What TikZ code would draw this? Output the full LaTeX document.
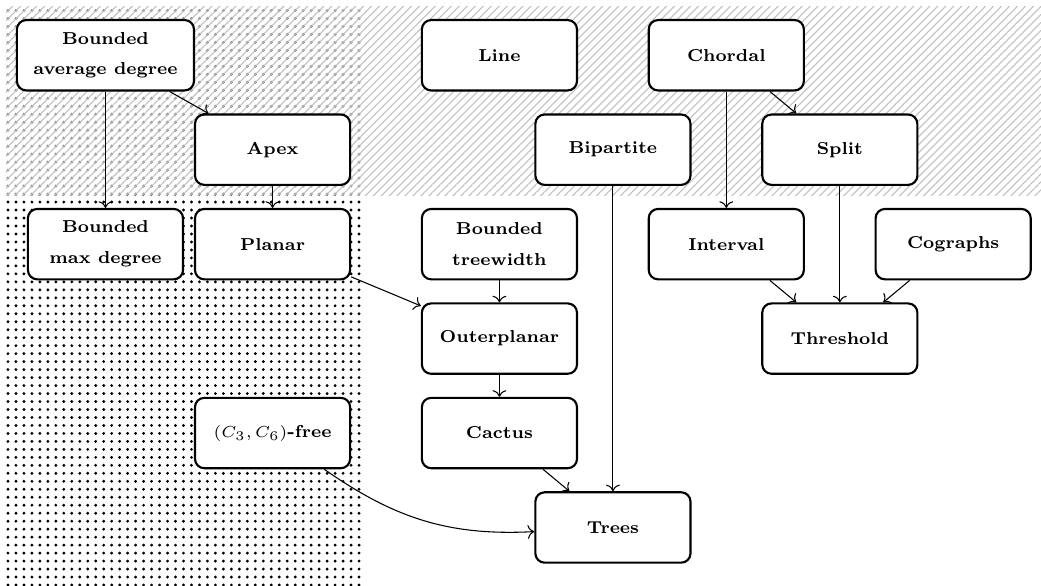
\documentclass[tikz,border=0pt]{standalone}
\usepackage{amsmath,amssymb}
\usepackage{xcolor}
\usepackage{tikz}
\usetikzlibrary{arrows.meta,positioning,patterns.meta,backgrounds}

\begin{document}
\begin{tikzpicture}[
    node distance=0.29cm and 0.92cm,
    cls/.style={rectangle, rounded corners=3.5pt, draw=black, thick,
                fill=white, minimum width=2.05cm, minimum height=0.93cm,
                font=\fontsize{6.5pt}{8pt}\selectfont\bfseries, align=center},
    arr/.style={->, thin}
  ]
    \useasboundingbox (0,0) rectangle (13.757,-7.731);

    \node[cls] (line) at (6.6,-0.73) {Line};
    \node[cls, right=of line]   (chordal) {Chordal};
    \node[cls, below=of line, xshift=1.5cm]    (bip)   {Bipartite};
    \node[cls, below=of chordal, xshift=1.5cm] (split) {Split};
    \node[cls, below=of bip, xshift=-1.5cm]    (tw)    {Bounded\\[3.6pt]treewidth};
    \node[cls, below=of split, xshift=-1.5cm]  (interval) {Interval};
    \node[cls, right=of interval] (cographs) {Cographs};
    \node[cls, below=of tw]       (outer)    {Outerplanar};
    \node[cls, below=of interval, xshift=1.5cm] (threshold) {Threshold};
    \node[cls, below=of outer]    (cactus)   {Cactus};
    \node[cls, below=of cactus, xshift=1.5cm]   (trees) {Trees};
    \node[cls, left=of tw]        (planar)   {Planar};
    \node[cls, above=of planar]   (apex)     {Apex};
    \node[cls, left=of cactus]    (free)     {$(C_3,C_6)$-free};
    \node[cls, left=0.13cm of planar] (maxdeg) {Bounded\\[3.6pt]max degree};
    \node[cls, minimum width=2.34cm] (avg) at (maxdeg |- line) {Bounded\\[3.6pt]average degree};

    % regions
    \begin{scope}[on background layer]
      \fill[pattern={Dots[distance=3pt, radius=0.6pt]}, pattern color=gray] (0.08,-0.08) rectangle (4.8,-2.577);
      \fill[pattern={Dots[distance=3pt, radius=0.6pt]}] (0.08,-2.577) rectangle (4.8,-7.731);
      \fill[pattern={Lines[distance=2.12pt, angle=45, line width=0.4pt]}, pattern color=gray!50] (0.08,-0.08) rectangle (13.757,-2.577);
    \end{scope}

    \draw[arr] (avg) -- (apex);
    \draw[arr] (avg) -- (maxdeg);
    \draw[arr] (apex) -- (planar);
    \draw[arr] (planar) -- (outer);
    \draw[arr] (tw) -- (outer);
    \draw[arr] (outer) -- (cactus);
    \draw[arr] (cactus) -- (trees);
    \draw[arr] (bip) -- (trees);
    \draw[arr] (free) to[out=-35,in=183] (trees);
    \draw[arr] (chordal) -- (split);
    \draw[arr] (chordal) -- (interval);
    \draw[arr] (split) -- (threshold);
    \draw[arr] (interval) -- (threshold);
    \draw[arr] (cographs) -- (threshold);
  \end{tikzpicture}
\end{document}
